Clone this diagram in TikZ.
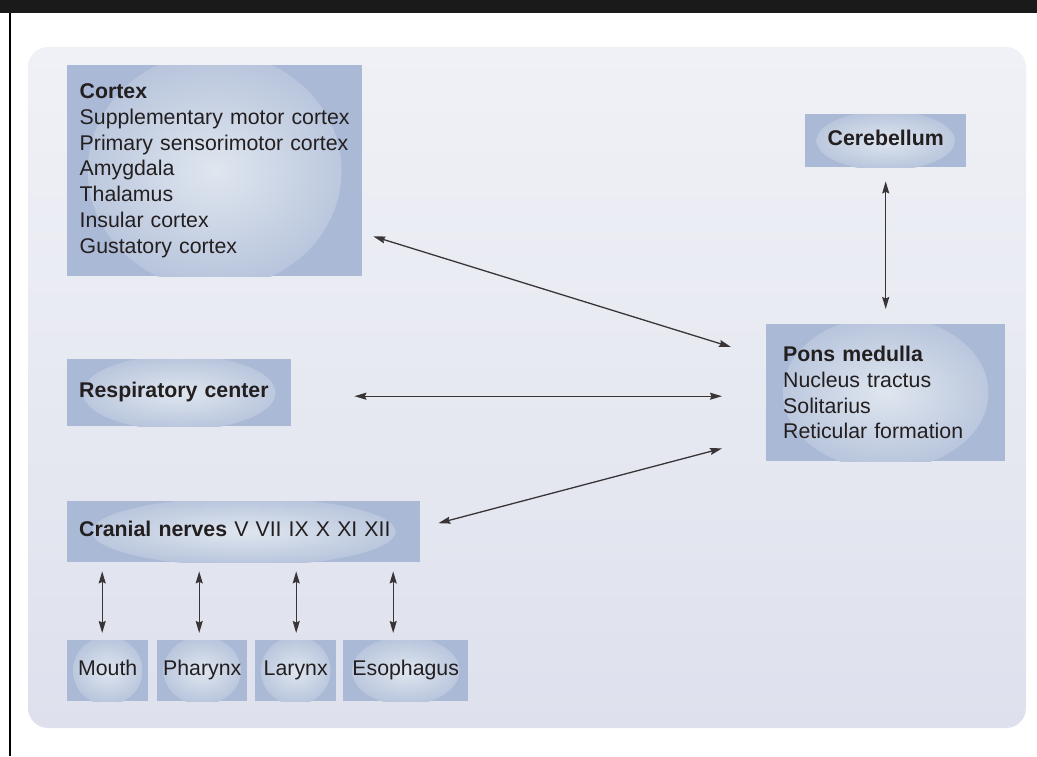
\documentclass[tikz,border=0pt]{standalone}
\usepackage{fontspec}
\setmainfont{Liberation Sans}
\usetikzlibrary{positioning,calc,arrows.meta}

\definecolor{barblack}{HTML}{1A1A1A}
\definecolor{paneltop}{HTML}{F0F1F6}
\definecolor{panelbottom}{HTML}{DEE1ED}
\definecolor{boxblue}{HTML}{AAB9D5}
\definecolor{glowin}{HTML}{DFE6EF}
\definecolor{glowout}{HTML}{B6C3DB}
\definecolor{inkgray}{HTML}{231F20}

\newcommand\organfont{\fontsize{21.3pt}{25.7pt}\selectfont}

\tikzset{
  organ/.style={fill=boxblue, inner sep=0pt, minimum height=61pt, font=\organfont, text=inkgray,
    path picture={
      \shade[inner color=glowin, outer color=glowout]
        let \p1=($(path picture bounding box.north east)-(path picture bounding box.center)$)
        in (path picture bounding box.center) ellipse [x radius=0.86*\x1, y radius=1.12*\y1];
    }},
  word/.style={text height=15pt, text depth=5pt},
  arr/.style={{Stealth[length=12pt,width=7pt,inset=1.5pt]}-{Stealth[length=12pt,width=7pt,inset=1.5pt]},
    line width=1.3pt, draw=inkgray!90},
}

\begin{document}
\begin{tikzpicture}[x=1pt,y=1pt]
  \useasboundingbox (0,0) rectangle (1037,756);
  % frame
  \fill[barblack] (0,743) rectangle (1037,756);
  \fill[black] (9,0) rectangle (11,743);
  \shade[top color=paneltop, bottom color=panelbottom, rounded corners=20pt] (28,28) rectangle (1026,709);

  % boxes
  \node[organ, anchor=north west, minimum width=295pt, minimum height=211pt, text width=270pt, align=left] (cortex) at (67,691)
    {\textbf{Cortex}\\Supplementary motor cortex\\Primary sensorimotor cortex\\Amygdala\\Thalamus\\Insular cortex\\Gustatory cortex};
  \node[organ, word, anchor=north west, minimum width=161pt, minimum height=53pt, align=center] (cereb) at (805,642) {\textbf{Cerebellum}};
  \node[organ, anchor=north west, minimum width=239pt, minimum height=137pt, text width=205pt, align=left] (pons) at (766,432)
    {\textbf{Pons medulla}\\Nucleus tractus\\Solitarius\\Reticular formation};
  \node[organ, word, anchor=north west, minimum width=224pt, minimum height=67pt, text width=200pt, align=left] (resp) at (67,397)
    {\textbf{Respiratory center}};
  \node[organ, word, anchor=north west, minimum width=353pt, text width=329pt, align=left] (cranial) at (67,255)
    {\textbf{Cranial nerves} V VII IX X XI XII};

  \node[organ, word, anchor=north west, minimum width=81pt] (mouth) at (67,116) {Mouth};
  \node[organ, word, anchor=north west, minimum width=90pt] (pharynx) at (157,116) {Pharynx};
  \node[organ, word, anchor=north west, minimum width=81pt] (larynx) at (255,116) {Larynx};
  \node[organ, word, anchor=north west, minimum width=125pt] (esoph) at (343,116) {Esophagus};

  % connections
  \draw[arr] ($(cortex.south east)+(11,40)$) -- ($(pons.north west)+(-35,-23)$);
  \draw[arr] ($(resp.east)+(63,-3.5)$) -- ($(pons.west)+(-44,-3.5)$);
  \draw[arr] ($(cranial.east)+(18,8.5)$) -- ($(pons.south west)+(-44,13)$);
  \draw[arr, shorten <=14pt, shorten >=15pt] (cereb) -- (pons);
  \foreach \n/\dx in {mouth/-5.5, pharynx/-3, larynx/0.5, esoph/-12.5}
    \draw[arr] ($(\n.north)+(\dx,7)$) -- ($(\n.north |- cranial.south)+(\dx,-9)$);
\end{tikzpicture}
\end{document}
